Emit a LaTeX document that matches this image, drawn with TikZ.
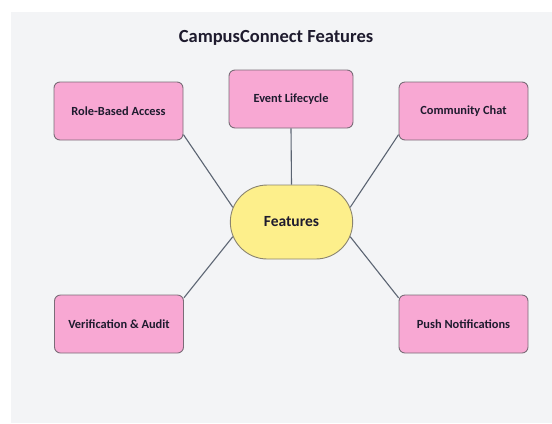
\documentclass[tikz,border=0pt]{standalone}
\usepackage{fontspec}
\setmainfont{Carlito}
\usetikzlibrary{shapes.misc}
\definecolor{panelgray}{HTML}{F3F4F6}
\definecolor{boxpink}{HTML}{F8A8D3}
\definecolor{boxedge}{HTML}{7A6C78}
\definecolor{hubyellow}{HTML}{FDEF8B}
\definecolor{hubedge}{HTML}{8A8470}
\definecolor{linkgray}{HTML}{5B6472}
\definecolor{inkdark}{HTML}{1E1B2E}
\tikzset{
  feature/.style={draw=boxedge, line width=0.9bp, fill=boxpink, rounded corners=6bp,
    minimum width=129bp, minimum height=58bp, text=inkdark,
    font=\fontsize{12.4bp}{14bp}\selectfont\bfseries},
  hub/.style={rounded rectangle, draw=hubedge, line width=0.9bp, fill=hubyellow,
    minimum width=129bp, minimum height=74bp, text=inkdark,
    font=\fontsize{15.5bp}{18bp}\selectfont\bfseries},
  link/.style={draw=linkgray, line width=1.1bp}
}
\begin{document}
\begin{tikzpicture}[x=1bp, y=-1bp]
            \useasboundingbox (0, 0) rectangle (552, 423);
            \fill[panelgray] (11, 12) rectangle (552, 423);
            \node[text=inkdark, font=\fontsize{18.5bp}{22bp}\selectfont\bfseries] (title) at (276, 38) {CampusConnect Features};
            \node[hub] (feat) at (291.5, 222) {Features};
            \node[feature] (role) at (118.5, 111) {Role-Based Access};
            \node[feature, minimum width=124bp] (event) at (291, 99) {Event Lifecycle};
            \node[feature] (chat) at (463.5, 111) {Community Chat};
            \node[feature] (verif) at (119, 324) {Verification \& Audit};
            \node[feature] (push) at (463.5, 324) {Push Notifications};
            \draw[link] (role.-20) -- (feat.166);
            \draw[link] (event.south) -- (feat.north);
            \draw[link] (chat.200) -- (feat.14);
            \draw[link] (verif.22) -- (feat.194);
            \draw[link] (push.158) -- (feat.-14);
        \end{tikzpicture}
\end{document}
